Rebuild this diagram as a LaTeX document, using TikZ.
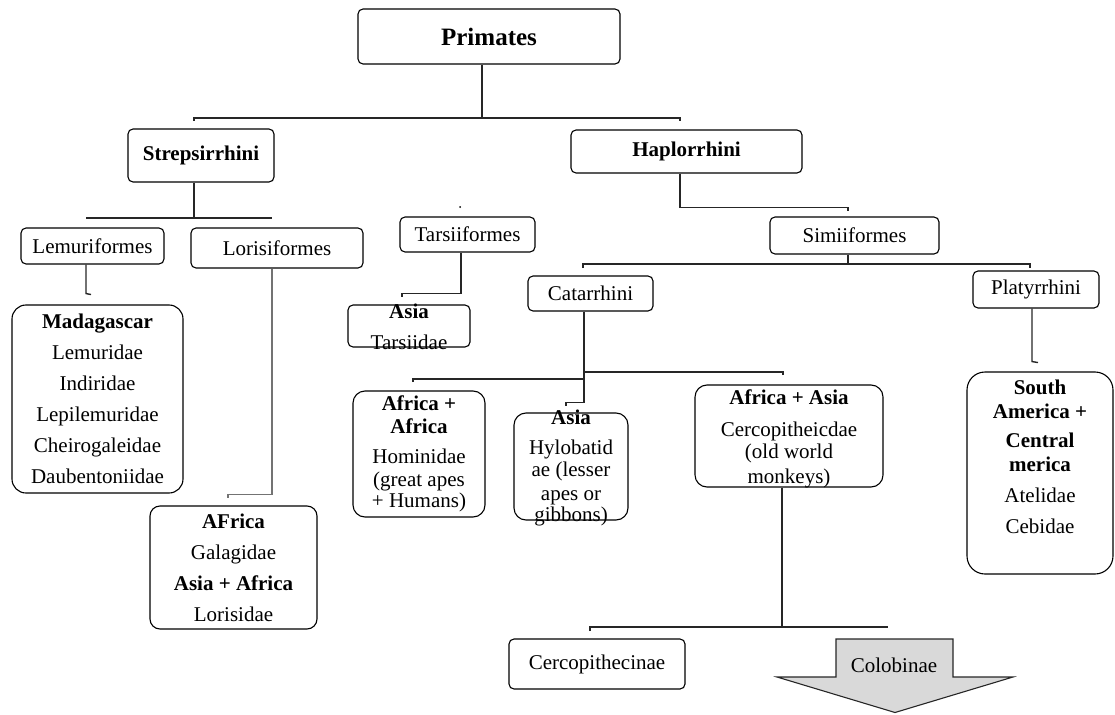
\documentclass[tikz,border=0pt]{standalone}
\usepackage{fontspec}
\setmainfont{Liberation Serif}
\usepackage{tikz}
\usetikzlibrary{positioning}

\definecolor{arrowgray}{RGB}{217,217,217}

\begin{document}
\begin{tikzpicture}[x=1pt,y=-1pt,thin]
                \tikzset{every node/.style={font=\fontsize{21}{31}\selectfont, inner sep=0pt, align=center},
                         taxon/.style={draw, rounded corners=5pt, line width=1.1pt},
                         region/.style={taxon, rounded corners=14pt},
                         headtext/.style={font=\fontsize{21}{31}\selectfont\bfseries},
                         link/.style={line width=1.4pt, black!85}}
                \useasboundingbox (0,0) rectangle (1115,714);
                % ranks
                \node[taxon, minimum width=262, minimum height=55, font=\fontsize{25}{30}\selectfont\bfseries] (prim) at (489,36.5) {Primates};
                \node[taxon, headtext, minimum width=146, minimum height=53] (strep) at (201,155.5) {Strepsirrhini};
                \node[taxon, headtext, minimum width=231, minimum height=43] (haplo) at (686.5,151.5) {Haplorrhini};
                \node[taxon, minimum width=143, minimum height=36] (lemf) at (92.5,246) {Lemuriformes};
                \node[taxon, minimum width=172, minimum height=40] (lorf) at (277,248) {Lorisiformes};
                \node[taxon, minimum width=135, minimum height=35] (tarf) at (467.5,234.5) {Tarsiiformes};
                \node[taxon, minimum width=169, minimum height=37] (simf) at (854.5,235.5) {Simiiformes};
                \node[taxon, minimum width=125, minimum height=35] (cata) at (590.5,293.5) {Catarrhini};
                \node[taxon, minimum width=126, minimum height=37] (platy) at (1036,289.5) {Platyrrhini};
                \node[taxon, minimum width=176, minimum height=50] (cercin) at (597,664) {Cercopithecinae};
                % regions and families
                \node[region, minimum width=171, minimum height=188] (madag) at (97.5,399) {\textbf{Madagascar}\\Lemuridae\\Indiridae\\Lepilemuridae\\Cheirogaleidae\\Daubentoniidae};
                \node[region, rounded corners=10pt, minimum width=167, minimum height=123] (galag) at (233.5,567.5) {\textbf{AFrica}\\Galagidae\\\textbf{Asia + Africa}\\Lorisidae};
                \node[taxon, minimum width=122, minimum height=42] (tars) at (409,326) {};
                \node (tarstext) at (409,327) {\textbf{Asia}\\Tarsiidae};
                \node[region, rounded corners=12pt, minimum width=132, minimum height=126] (homin) at (419,454) {\textbf{Africa +}\\[-8pt]\textbf{Africa}\\[-1pt]Hominidae\\[-8pt](great apes\\[-10pt]+ Humans)};
                \node[region, rounded corners=12pt, minimum width=114, minimum height=107] (hylo) at (571,466.5) {};
                \node (hylotext) at (571,468) {\textbf{Asia}\\[-1pt]Hylobatid\\[-9pt]ae (lesser\\[-7pt]apes or\\[-10pt]gibbons)};
                \node[region, rounded corners=12pt, minimum width=188, minimum height=102] (cerco) at (789,436) {};
                \node (cercotext) at (789,439) {\textbf{Africa + Asia}\\[1pt]Cercopitheicdae\\[-9pt](old world\\[-6pt]monkeys)};
                \node[region, rounded corners=18pt, minimum width=146, minimum height=202] (samer) at (1040,473) {};
                \node (samertext) at (1040,457) {\textbf{South}\\[-7pt]\textbf{America +}\\[-2pt]\textbf{Central}\\[-7pt]\textbf{merica}\\Atelidae\\Cebidae};
                \filldraw[fill=arrowgray, draw=black!85, line width=1.1pt] (836,639) -- (953,639) -- (953,677) -- (1013,677) -- (895,712.5) -- (777,677) -- (836,677) -- cycle;
                \node (colob) at (894,665) {Colobinae};
                % junctions
                \coordinate (strepbar) at (194,118);
                \coordinate (haplobar) at (680,118);
                \coordinate (lemfbar) at (86,218);
                \coordinate (lorfbar) at (272,218);
                \coordinate (catabar) at (583,264);
                \coordinate (platybar) at (1030,264);
                \coordinate (homibar) at (413,379);
                \coordinate (cercobar) at (783,372);
                \coordinate (cercinbar) at (590,627);
                \coordinate (colobbar) at (888,627);
                % connectors
                \draw[link] ([xshift=-7]prim.south) -- ([xshift=-7]prim.south |- strepbar);
                \draw[link] ([yshift=-3]strepbar) -- (strepbar) -- (haplobar) -- ([yshift=-3]haplobar);
                \draw[link] (strep.south -| strepbar) -- (strepbar |- lemfbar);
                \draw[link] (lemfbar) -- (lorfbar);
                \draw[link] (lemf.south -| lemfbar) -- ++(0,29) -- ++(5,1);
                \draw[link, black!55] (lorf.south -| lorfbar) -- ++(0,226) -- ++(-44,0) -- ++(0,3);
                \draw[link] ([xshift=-6.5]tarf.south) -- ++(0,41) -- ++(-59,0) -- ++(0,3);
                \draw[link] (haplobar |- haplo.south) -- ++(0,34) -- ++(168,0) -- ++(0,3);
                \draw[link] ([xshift=-6.5]simf.south) -- ([xshift=-6.5]simf.south |- catabar);
                \draw[link] ([yshift=-4]catabar) -- (catabar) -- (platybar) -- ([yshift=-4]platybar);
                \draw[link] ([xshift=-4]platy.south) -- ++(0,53) -- ++(6,1);
                \draw[link] ([xshift=-6.5]cata.south) -- ++(0,91) -- ++(-18,0) -- ++(0,3);
                \draw[link] ([yshift=-3]homibar) -- (homibar) -- ++(171,0);
                \draw[link] ([yshift=-3]cercobar) -- (cercobar) -- ++(-199,0);
                \draw[link] ([xshift=-7]cerco.south) -- ([xshift=-7]cerco.south |- cercinbar);
                \draw[link] ([yshift=-4]cercinbar) -- (cercinbar) -- (colobbar);
                \fill (460,207) circle (1);
            \end{tikzpicture}
\end{document}
